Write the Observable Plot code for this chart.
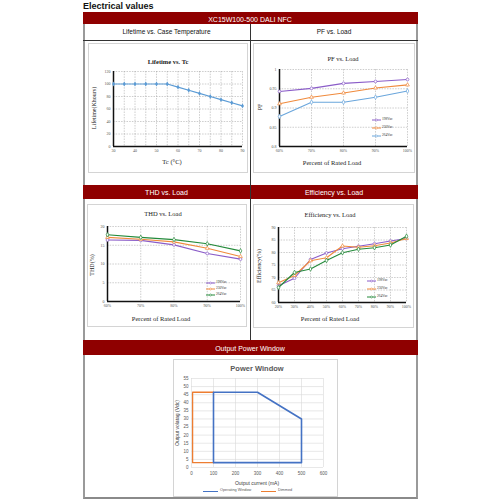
<!DOCTYPE html>
<html><head><meta charset="utf-8">
<script src="https://cdn.jsdelivr.net/npm/d3@7"></script>
<script src="https://cdn.jsdelivr.net/npm/@observablehq/plot@0.6"></script>
<style>
body{margin:0;width:500px;height:500px;position:relative;background:#fff;font-family:"Liberation Sans",Arial,sans-serif;overflow:hidden}
.abs{position:absolute;box-sizing:border-box}
.red{position:absolute;background:#8f0000;color:#fff;font-size:7px;box-sizing:border-box}
.box{position:absolute;border:1px solid #d4d4d4;background:#fff;box-sizing:border-box}
.t{position:absolute;white-space:nowrap;transform:translate(-50%,-50%);font-family:"Liberation Serif","Times New Roman",serif;color:#222;line-height:1}
.c{position:absolute;white-space:nowrap;transform:translate(-50%,-50%);line-height:1}
</style></head><body>
<script>
// ---------------- data ----------------
const lifeTc = [30,35,40,45,50,55,60,65,70,75,80,85,90];
const lifeKh = [100,100,100,100,100,100,95,90,85,80,75,70,65];
const lifeXTicks = [30,40,50,60,70,80,90];
const lifeXGrid = [30,35,40,45,50,55,60,65,70,75,80,85,90];
const lifeYTicks = [0,20,40,60,80,100,120];

const series = ["198Vac","230Vac","264Vac"];

const pfLoad = [60,70,80,90,100];
const pf198 = [0.943,0.951,0.964,0.969,0.974];
const pf230 = [0.911,0.928,0.939,0.952,0.960];
const pf264 = [0.878,0.915,0.915,0.928,0.944];
const pfYTicks = [0.8,0.85,0.9,0.95,1];

const thdLoad = [60,70,80,90,100];
const thd198 = [16.4,16.3,15.1,12.8,11.3];
const thd230 = [17.1,16.6,15.9,14.2,12.0];
const thd264 = [17.8,17.1,16.5,15.4,13.5];
const thdYTicks = [0,5,10,15,20];

const effLoad = [20,30,40,50,60,70,80,90,100];
const eff198 = [66.7,69.7,77.2,79.8,81.5,82.5,83.5,84.6,85.6];
const eff230 = [67.9,70.8,76.7,77.9,82.6,82.1,82.7,83.8,85.6];
const eff264 = [66.0,72.0,73.4,76.8,79.9,81.3,81.9,83.0,86.5];
const effYTicks = [60,65,70,75,80,85,90];

const pwCurrent = [100,100,300,500,500,100];
const pwVoltage = [3,46.5,46.5,30,3,3];
const dimCurrent = [100,5,5,100];
const dimVoltage = [46.5,46.5,3,3];
const pwXTicks = [0,100,200,300,400,500,600];
const pwYTicks = [0,5,10,15,20,25,30,35,40,45,50,55];

// ---------------- helpers ----------------
const B = document.body;
function div(cls, css, text){const d=document.createElement("div");d.className=cls;Object.assign(d.style,css);if(text!=null)d.textContent=text;B.appendChild(d);return d;}
function label(cls, x, y, text, css={}){return div(cls,Object.assign({left:x+"px",top:y+"px"},css),text);}
function place(svg, x, y){svg.style.position="absolute";svg.style.left=x+"px";svg.style.top=y+"px";svg.style.maxWidth="none";B.appendChild(svg);}

// ---------------- table frame ----------------
label("abs",83,1,"Electrical values",{fontWeight:"bold",fontSize:"9px",color:"#111"});
div("abs",{left:"83px",top:"12px",width:"335px",height:"487px",borderLeft:"2px solid #9a9a9a",borderRight:"2px solid #9a9a9a",borderBottom:"2px solid #8a8a8a"});
div("red",{left:"83px",top:"12px",width:"335px",height:"12px"});
label("c",250,18.5,"XC15W100-500 DALI NFC",{color:"#fff",fontSize:"7px"});
div("abs",{left:"83px",top:"40px",width:"335px",height:"1px",background:"#333"});
label("c",166.5,32,"Lifetime vs. Case Temperature",{fontSize:"6.5px",color:"#111"});
label("c",334,32,"PF vs. Load",{fontSize:"6.5px",color:"#111"});
div("red",{left:"83px",top:"185px",width:"335px",height:"14px"});
label("c",166.5,192,"THD vs. Load",{color:"#fff",fontSize:"7px"});
label("c",334,192,"Efficiency vs. Load",{color:"#fff",fontSize:"7px"});
div("red",{left:"83px",top:"340px",width:"335px",height:"15px"});
label("c",250,347.5,"Output Power Window",{color:"#fff",fontSize:"7px"});
div("abs",{left:"250px",top:"24px",width:"1px",height:"316px",background:"#333"});

// ---------------- chart boxes ----------------
div("box",{left:"88px",top:"43px",width:"160px",height:"130px"});
div("box",{left:"253px",top:"43px",width:"162px",height:"130px"});
div("box",{left:"87px",top:"204px",width:"160px",height:"123px"});
div("box",{left:"253px",top:"204px",width:"161px",height:"124px"});
div("box",{left:"173px",top:"359px",width:"165px",height:"138px"});

const colors = {"198Vac":"#8a5cc8","230Vac":"#f08a3c","264Vac":"#6aa6dc"};
const colorsG = {"198Vac":"#8a5cc8","230Vac":"#f08a3c","264Vac":"#248a3a"};
const symbols = {"198Vac":"circle","230Vac":"triangle","264Vac":"diamond"};
const serif = "'Liberation Serif','Times New Roman',serif";

function toRows(xs, ys, s){return xs.map((x,i)=>({x, y:ys[i], s}));}

function seriesChart({w,h,m,xdom,ydom,xticks,yticks,xfmt,yfmt,rows,cmap}){
  const marks = [
    Plot.gridX(xticks,{stroke:"#9a9a9a",strokeOpacity:1,strokeWidth:0.5,strokeDasharray:"1.5,1.2"}),
    Plot.gridY(yticks,{stroke:"#9a9a9a",strokeOpacity:1,strokeWidth:0.5,strokeDasharray:"1.5,1.2"}),
    Plot.axisX(xticks,{tickSize:0,tickPadding:3,label:null,tickFormat:xfmt}),
    Plot.axisY(yticks,{tickSize:0,tickPadding:3,label:null,tickFormat:yfmt}),
    Plot.ruleX([xdom[0]],{stroke:"#111",strokeWidth:1.5}),
    Plot.ruleY([ydom[0]],{stroke:"#111",strokeWidth:1.5})
  ];
  for (const s of series){
    const d = rows.filter(r=>r.s===s);
    marks.push(Plot.line(d,{x:"x",y:"y",stroke:cmap[s],strokeWidth:1.1}));
    marks.push(Plot.dot(d,{x:"x",y:"y",symbol:symbols[s],r:1.4,fill:"white",stroke:cmap[s],strokeWidth:0.7}));
  }
  return Plot.plot({width:w,height:h,marginLeft:m[0],marginRight:m[1],marginTop:m[2],marginBottom:m[3],
    x:{domain:xdom},y:{domain:ydom},
    style:{fontSize:"4px",fontFamily:serif,color:"#555",background:"transparent",overflow:"visible"},
    marks});
}

function legend(x, ys, cmap, fs){
  series.forEach((s,i)=>{
    const svg = d3.create("svg").attr("width",9).attr("height",4)
      .style("position","absolute").style("left",x+"px").style("top",(ys[i]-2)+"px");
    svg.append("line").attr("x1",0).attr("x2",9).attr("y1",2).attr("y2",2).attr("stroke",cmap[s]).attr("stroke-width",1);
    svg.append("path").attr("d",d3.symbol(d3.symbolCircle,3)()).attr("transform","translate(4.5,2)").attr("fill","white").attr("stroke",cmap[s]).attr("stroke-width",0.6);
    B.appendChild(svg.node());
    label("abs",x+10,ys[i]-fs/2-0.3,s,{fontSize:fs+"px",fontFamily:serif,color:"#333",lineHeight:"1"});
  });
}

// ---------------- Lifetime ----------------
const lifeRows = lifeTc.map((t,i)=>({x:t,y:lifeKh[i]}));
place(Plot.plot({width:160,height:130,marginLeft:25,marginRight:6,marginTop:28,marginBottom:27,
  x:{domain:[30,90]},y:{domain:[0,120]},
  style:{fontSize:"4px",fontFamily:serif,color:"#555",background:"transparent",overflow:"visible"},
  marks:[
    Plot.gridX(lifeXGrid,{stroke:"#9a9a9a",strokeOpacity:1,strokeWidth:0.5,strokeDasharray:"1.5,1.2"}),
    Plot.gridY(lifeYTicks,{stroke:"#9a9a9a",strokeOpacity:1,strokeWidth:0.5,strokeDasharray:"1.5,1.2"}),
    Plot.axisX(lifeXTicks,{tickSize:0,tickPadding:3,label:null}),
    Plot.axisY(lifeYTicks,{tickSize:0,tickPadding:3,label:null}),
    Plot.ruleX([30],{stroke:"#111",strokeWidth:1.5}),
    Plot.ruleY([0],{stroke:"#111",strokeWidth:1.5}),
    Plot.line(lifeRows,{x:"x",y:"y",stroke:"#5b9bd5",strokeWidth:1.2}),
    Plot.dot(lifeRows,{x:"x",y:"y",symbol:"diamond",r:1.5,fill:"#5b9bd5"})
  ]}),88,43);
label("t",168,62,"Lifetime vs. Tc",{fontSize:"6.5px",fontWeight:"bold"});
label("t",94,108,"Lifetime(Khours)",{fontSize:"6px",transform:"translate(-50%,-50%) rotate(-90deg)"});
label("t",172,162,"Tc (°C)",{fontSize:"6.5px"});

// ---------------- PF ----------------
const pfRows = [...toRows(pfLoad,pf198,"198Vac"),...toRows(pfLoad,pf230,"230Vac"),...toRows(pfLoad,pf264,"264Vac")];
place(seriesChart({w:162,h:130,m:[26,8,26,27],xdom:[60,100],ydom:[0.8,1],xticks:pfLoad,yticks:pfYTicks,
  xfmt:d=>d+"%",yfmt:d=>String(+d.toFixed(2)),rows:pfRows,cmap:colors}),253,43);
label("t",343,59,"PF vs. Load",{fontSize:"6.5px"});
label("t",260,107,"PF",{fontSize:"6px",transform:"translate(-50%,-50%) rotate(-90deg)"});
label("t",332,163,"Percent of Rated Load",{fontSize:"6.5px"});
legend(372,[120,128,136],colors,3.5);

// ---------------- THD ----------------
const thdRows = [...toRows(thdLoad,thd198,"198Vac"),...toRows(thdLoad,thd230,"230Vac"),...toRows(thdLoad,thd264,"264Vac")];
place(seriesChart({w:160,h:123,m:[20,7,22,26],xdom:[60,100],ydom:[0,20],xticks:thdLoad,yticks:thdYTicks,
  xfmt:d=>d+"%",yfmt:d=>d,rows:thdRows,cmap:colorsG}),87,204);
label("t",163,214,"THD vs. Load",{fontSize:"6.5px"});
label("t",92,265,"THD(%)",{fontSize:"6px",transform:"translate(-50%,-50%) rotate(-90deg)"});
label("t",161,319,"Percent of Rated Load",{fontSize:"6.5px"});
legend(206,[283,289,295],colorsG,3.5);

// ---------------- Efficiency ----------------
const effRows = [...toRows(effLoad,eff198,"198Vac"),...toRows(effLoad,eff230,"230Vac"),...toRows(effLoad,eff264,"264Vac")];
place(seriesChart({w:161,h:124,m:[25,8,23,26],xdom:[20,100],ydom:[60,90],xticks:effLoad,yticks:effYTicks,
  xfmt:d=>d+"%",yfmt:d=>d,rows:effRows,cmap:colorsG}),253,204);
label("t",330,215,"Efficiency vs. Load",{fontSize:"6.5px"});
label("t",259,266,"Efficiency(%)",{fontSize:"6px",transform:"translate(-50%,-50%) rotate(-90deg)"});
label("t",330,319,"Percent of Rated Load",{fontSize:"6.5px"});
legend(367,[281,289,297],colorsG,3.5);

// ---------------- Power Window ----------------
const pwRows = pwCurrent.map((c,i)=>({x:c,y:pwVoltage[i]}));
const dimRows = dimCurrent.map((c,i)=>({x:c,y:dimVoltage[i]}));
place(Plot.plot({width:165,height:138,marginLeft:18,marginRight:15,marginTop:19,marginBottom:30,
  x:{domain:[0,600]},y:{domain:[0,55]},
  style:{fontSize:"4.5px",fontFamily:"'Liberation Sans',Arial,sans-serif",color:"#595959",background:"transparent",overflow:"visible"},
  marks:[
    Plot.gridX(pwXTicks,{stroke:"#d9d9d9",strokeOpacity:1,strokeWidth:0.6}),
    Plot.gridY(pwYTicks,{stroke:"#d9d9d9",strokeOpacity:1,strokeWidth:0.6}),
    Plot.axisX(pwXTicks,{tickSize:0,tickPadding:4,label:null}),
    Plot.axisY(pwYTicks,{tickSize:0,tickPadding:3,label:null}),
    Plot.line(dimRows,{x:"x",y:"y",stroke:"#ed7d31",strokeWidth:1.3}),
    Plot.line(pwRows,{x:"x",y:"y",stroke:"#4472c4",strokeWidth:1.6})
  ]}),173,359);
label("c",257,369,"Power Window",{fontSize:"7.5px",fontWeight:"bold",color:"#595959"});
label("c",177,423,"Output  volatag (Vdc)",{fontSize:"5px",color:"#404040",transform:"translate(-50%,-50%) rotate(-90deg)"});
label("c",257,483,"Output current (mA)",{fontSize:"5px",color:"#404040"});
div("abs",{left:"203px",top:"490.5px",width:"15px",height:"1.6px",background:"#4472c4"});
label("abs",220,489,"Operating Window",{fontSize:"3.8px",color:"#595959",lineHeight:"1"});
div("abs",{left:"261px",top:"490.5px",width:"15px",height:"1.6px",background:"#ed7d31"});
label("abs",278,489,"Dimmed",{fontSize:"3.8px",color:"#595959",lineHeight:"1"});
</script>
</body></html>
